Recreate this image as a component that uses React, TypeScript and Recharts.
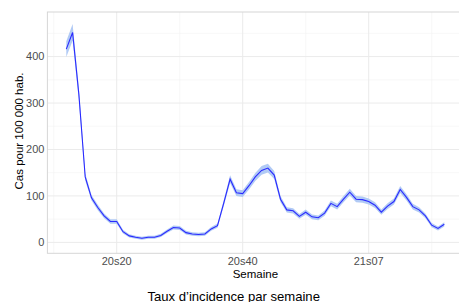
import { ComposedChart, Area, Line, XAxis, YAxis, CartesianGrid } from "recharts";

const weeks = [
  "20s12", "20s13", "20s14", "20s15", "20s16", "20s17", "20s18", "20s19", "20s20", "20s21",
  "20s22", "20s23", "20s24", "20s25", "20s26", "20s27", "20s28", "20s29", "20s30", "20s31",
  "20s32", "20s33", "20s34", "20s35", "20s36", "20s37", "20s38", "20s39", "20s40", "20s41",
  "20s42", "20s43", "20s44", "20s45", "20s46", "20s47", "20s48", "20s49", "20s50", "20s51",
  "20s52", "20s53", "21s01", "21s02", "21s03", "21s04", "21s05", "21s06", "21s07", "21s08",
  "21s09", "21s10", "21s11", "21s12", "21s13", "21s14", "21s15", "21s16", "21s17", "21s18",
  "21s19",
];

const taux = [
  416, 452, 318, 141, 96, 75, 57, 45, 45, 23,
  14, 11, 9, 11, 11, 15, 24, 32, 31, 21,
  18, 17, 18, 29, 36, 85, 136, 107, 105, 122,
  141, 155, 160, 145, 93, 70, 68, 56, 65, 55,
  53, 63, 84, 77, 93, 108, 93, 92, 88, 80,
  65, 78, 88, 114, 97, 77, 70, 57, 37, 30,
  39,
];

const tauxBas = [
  399, 434, 304, 133, 90, 69, 52, 40, 40, 19,
  10.5, 7.6, 5.7, 7.6, 7.6, 11.4, 20, 27.7, 26.8, 17.2,
  14.3, 13.3, 14.3, 24.8, 31.6, 78.6, 127.6, 99.7, 97.8, 114.1,
  132.4, 145.8, 150.6, 136.2, 86.3, 64.2, 62.3, 50.8, 59.4, 49.8,
  47.9, 57.5, 77.6, 70.9, 86.3, 100.7, 86.3, 85.3, 81.5, 73.8,
  59.4, 71.9, 81.5, 106.4, 90.1, 70.9, 64.2, 51.7, 32.5, 25.8,
  34.4,
];

const tauxHaut = [
  433, 470, 332, 149, 102, 81, 62, 50, 50, 27,
  17.5, 14.4, 12.3, 14.4, 14.4, 18.6, 28, 36.3, 35.2, 24.8,
  21.7, 20.7, 21.7, 33.2, 40.4, 91.4, 144.4, 114.3, 112.2, 129.9,
  149.6, 164.2, 169.4, 153.8, 99.7, 75.8, 73.7, 61.2, 70.6, 60.2,
  58.1, 68.5, 90.4, 83.1, 99.7, 115.3, 99.7, 98.7, 94.5, 86.2,
  70.6, 84.1, 94.5, 121.6, 103.9, 83.1, 75.8, 62.3, 41.5, 34.2,
  43.6,
];

const xTicks = [8, 28, 48];
const xMinor = [-2, 18, 38, 58];
const yTicks = [0, 100, 200, 300, 400];
const yMinor = [50, 150, 250, 350, 450];

const data = weeks.map((w, i) => ({
  i,
  semaine: w,
  taux: taux[i],
  bande: [tauxBas[i], tauxHaut[i]],
}));

const font = "'Liberation Sans', Arial, sans-serif";
const tickStyle = { fill: "#4d4d4d", fontSize: 11, fontFamily: font };

const App = () => {
  return (
    <div
      style={{
        position: "fixed",
        left: 0,
        top: 0,
        width: 459,
        height: 302,
        overflow: "hidden",
        background: "#ffffff",
      }}
    >
      <ComposedChart
        width={470}
        height={302}
        data={data}
        margin={{ top: 12, right: 6.8, bottom: 0, left: 0 }}
      >
        <CartesianGrid
          stroke="#f4f4f4"
          strokeWidth={0.6}
          horizontalValues={yMinor}
          verticalValues={xMinor}
        />
        <CartesianGrid
          stroke="#ebebeb"
          strokeWidth={1}
          horizontalValues={yTicks}
          verticalValues={xTicks}
        />
        <XAxis
          type="number"
          dataKey="i"
          domain={[-3, 63]}
          ticks={xTicks}
          tickFormatter={(v: number) => weeks[v]}
          axisLine={false}
          tickLine={false}
          tickSize={0}
          tickMargin={3.7}
          height={48.7}
          tick={tickStyle}
          allowDataOverflow
          interval={0}
        />
        <YAxis
          type="number"
          domain={[-23.5, 496]}
          ticks={yTicks}
          axisLine={false}
          tickLine={false}
          tickSize={0}
          tickMargin={3}
          width={47.4}
          tick={tickStyle}
          allowDataOverflow
          interval={0}
        />
        <Area
          dataKey="bande"
          type="linear"
          stroke="none"
          fill="#a9c4f4"
          fillOpacity={0.9}
          isAnimationActive={false}
          dot={false}
          activeDot={false}
        />
        <Line
          dataKey="taux"
          type="linear"
          stroke="#2a2aff"
          strokeWidth={1.1}
          dot={false}
          activeDot={false}
          isAnimationActive={false}
        />
      </ComposedChart>
      <svg
        width={459}
        height={302}
        style={{ position: "absolute", left: 0, top: 0, pointerEvents: "none" }}
      >
        <rect x={47.4} y={12} width={415.8} height={241.3} fill="none" stroke="#d6d6d6" strokeWidth={1} />
        <text x={255.4} y={278} textAnchor="middle" fontSize={11.5} fontFamily={font} fill="#000">
          Semaine
        </text>
        <text
          x={0}
          y={0}
          transform="translate(22.5,131) rotate(-90)"
          textAnchor="middle"
          fontSize={11.5}
          fontFamily={font}
          fill="#000"
        >
          Cas pour 100 000 hab.
        </text>
        <text x={233.7} y={301} textAnchor="middle" fontSize={13.1} fontFamily={font} fill="#000">
          Taux d’incidence par semaine
        </text>
      </svg>
    </div>
  );
};

export default App;
